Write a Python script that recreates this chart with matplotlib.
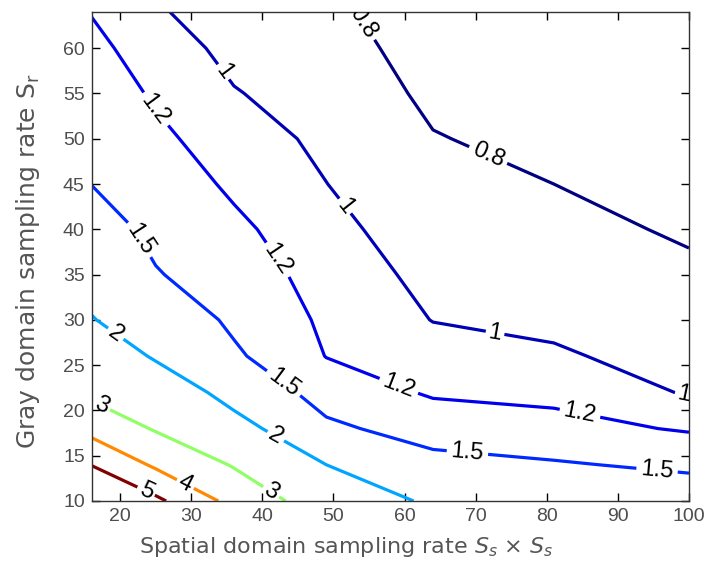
import numpy as np
import matplotlib
matplotlib.use('Agg')
import matplotlib.pyplot as plt

# spatial sampling rate Ss x Ss (Ss = 4..10) and gray sampling rate Sr
ss2 = [16, 25, 36, 49, 64, 81, 100]
sr = [10, 14, 18, 22, 26, 30, 35, 40, 45, 50, 55, 60, 64]

# values, one column per ss2 entry, rows follow sr
col16 = [6.2, 4.97, 3.67, 2.79, 2.40, 2.02, 1.83, 1.66, 1.495, 1.42, 1.34, 1.26, 1.19]
col25 = [5.2, 3.85, 2.92, 2.37, 1.94, 1.75, 1.52, 1.42, 1.34, 1.25, 1.17, 1.09, 1.02]
col36 = [3.7, 2.93, 2.19, 1.81, 1.55, 1.44, 1.34, 1.25, 1.16, 1.085, 1.01, 0.95, 0.91]
col49 = [2.45, 2.0, 1.57, 1.35, 1.193, 1.153, 1.10, 1.052, 1.002, 0.961, 0.921, 0.881, 0.848]
col64 = [1.9, 1.61, 1.35, 1.17, 1.076, 0.995, 0.949, 0.902, 0.856, 0.809, 0.763, 0.72, 0.68]
col81 = [1.75, 1.53, 1.29, 1.13, 1.02, 0.965, 0.91, 0.855, 0.80, 0.75, 0.70, 0.65, 0.62]
col100 = [1.7, 1.44, 1.173, 0.984, 0.938, 0.891, 0.834, 0.776, 0.72, 0.67, 0.62, 0.58, 0.55]

levels = [0.8, 1, 1.2, 1.5, 2, 3, 4, 5]

# where the inline labels sit
label_pos = [(53.5, 62.5), (70.8, 46.5),
             (33, 56.5), (51.5, 42.5), (72.5, 27.5), (99, 20.5),
             (24.5, 53), (40, 35.5), (58, 20.3), (84.5, 19),
             (21.5, 38.3), (41.2, 21.1), (68.8, 15), (95.5, 13.3),
             (19.4, 28.5), (41.2, 16.2),
             (16.8, 19.6), (40.9, 10.6),
             (28.6, 11), (23.6, 11)]

Z = np.array([col16, col25, col36, col49, col64, col81, col100]).T
X, Y = np.meshgrid(ss2, sr)

fig = plt.figure(figsize=(7.11, 5.71), dpi=100)
ax = fig.add_axes([0.129, 0.1226, 0.84, 0.8564])

cs = ax.contour(X, Y, Z, levels=levels, cmap='jet', vmin=0.8, vmax=5, linewidths=2.3)
lbls = ax.clabel(cs, manual=label_pos, inline=True, inline_spacing=2,
                 fontsize=17, colors='black', fmt='%g')
for t in lbls:
    t.set_family('Liberation Sans')

ax.set_xlim(16, 100)
ax.set_ylim(10, 64)
ax.set_xticks([20, 30, 40, 50, 60, 70, 80, 90, 100])
ax.set_yticks([10, 15, 20, 25, 30, 35, 40, 45, 50, 55, 60])
ax.tick_params(direction='in', top=True, right=True, length=6, width=1,
               labelsize=14, labelcolor='#4d4d4d', pad=5)
for t in ax.get_xticklabels() + ax.get_yticklabels():
    t.set_family('Liberation Sans')
for s in ax.spines.values():
    s.set_color('#333333')
    s.set_linewidth(1)

ax.set_xlabel(r'Spatial domain sampling rate $S_s$ × $S_s$',
              family='DejaVu Sans', fontsize=16, color='#555555')
ax.set_ylabel(r'Gray domain sampling rate $\mathrm{S}_\mathrm{r}$',
              family='DejaVu Sans', fontsize=18, color='#555555')
ax.xaxis.set_label_coords(0.427, -0.07)
ax.yaxis.set_label_coords(-0.083, 0.49)

fig.savefig('out.png', dpi=100)
